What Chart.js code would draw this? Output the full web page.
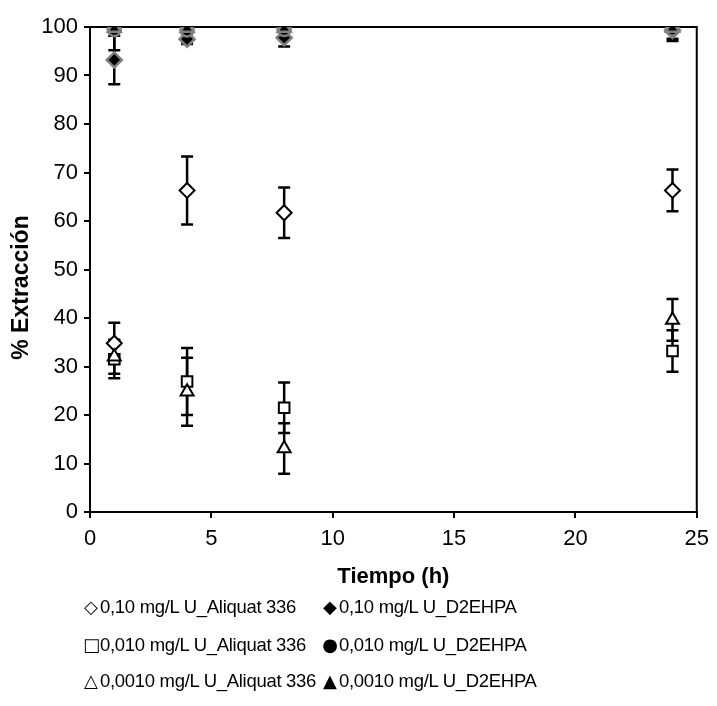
<!DOCTYPE html>
<html>
<head>
<meta charset="utf-8">
<script src="https://cdn.jsdelivr.net/npm/chart.js@4.4.0/dist/chart.umd.min.js"></script>
<style>
  html, body { margin: 0; padding: 0; background: #fff; }
  #wrap { position: relative; width: 717px; height: 706px; }
  #c { position: absolute; left: 0; top: 0; }
  .leg { position: absolute; font-family: "Liberation Sans", Arial, sans-serif; font-size: 18.5px; color: #000; white-space: nowrap; letter-spacing: -0.3px; line-height: 22px; }
  .sym { display: inline-block; width: 16px; text-align: center; font-family: "DejaVu Sans", sans-serif; font-size: 18px; letter-spacing: 0; margin-right: 1px; }
</style>
</head>
<body>
<div id="wrap">
  <canvas id="c" width="717" height="706"></canvas>
</div>
<script>
// ---- data ----
const times = [1, 4, 8, 24];
const xTicks = [0, 5, 10, 15, 20, 25];
const yTicks = [0, 10, 20, 30, 40, 50, 60, 70, 80, 90, 100];

const seriesNames = [
  "0,10 mg/L U_Aliquat 336",
  "0,10 mg/L U_D2EHPA",
  "0,010 mg/L U_Aliquat 336",
  "0,010 mg/L U_D2EHPA",
  "0,0010 mg/L U_Aliquat 336",
  "0,0010 mg/L U_D2EHPA"
];
const xTitle = "Tiempo (h)";
const yTitle = "% Extracción";

const aliq010 = [34.8, 66.3, 61.7, 66.3];
const aliq010Err = [4.2, 7.0, 5.2, 4.3];
const aliq0010 = [31.5, 26.9, 21.5, 33.2];
const aliq0010Err = [3.9, 6.9, 5.2, 4.3];
const aliq00010 = [32.0, 24.8, 13.1, 39.6];
const aliq00010Err = [3.5, 7.0, 5.2, 4.3];

const d2e010 = [93.2, 97.5, 97.8, 99.3];
const d2e010Err = [5.0, 1.0, 1.8, 2.2];
const d2e0010 = [99.5, 99.4, 99.5, 99.6];
const d2e0010Err = [4.3, 0.6, 0.5, 2.0];
const d2e00010 = [99.8, 99.8, 99.8, 99.8];
const d2e00010Err = [0.3, 0.3, 0.3, 0.3];

// ---- build datasets ----
function pts(vals) { return times.map((t, i) => ({ x: t, y: vals[i] })); }

const FONT = '"Liberation Sans", Arial, sans-serif';

const datasets = [
  { label: seriesNames[5], data: pts(d2e00010), err: d2e00010Err, pointStyle: 'triangle', pointRadius: 7.5, backgroundColor: '#000', borderColor: '#808080', borderWidth: 2.5, order: 0 },
  { label: seriesNames[3], data: pts(d2e0010), err: d2e0010Err, pointStyle: 'circle', pointRadius: 6.5, backgroundColor: '#000', borderColor: '#808080', borderWidth: 2.5, order: 1 },
  { label: seriesNames[1], data: pts(d2e010), err: d2e010Err, pointStyle: 'rectRot', pointRadius: 7.5, backgroundColor: '#000', borderColor: '#808080', borderWidth: 2.5, order: 2 },
  { label: seriesNames[4], data: pts(aliq00010), err: aliq00010Err, pointStyle: 'triangle', pointRadius: 7.5, backgroundColor: '#fff', borderColor: '#000', borderWidth: 2, order: 3 },
  { label: seriesNames[2], data: pts(aliq0010), err: aliq0010Err, pointStyle: 'rect', pointRadius: 7.5, backgroundColor: '#fff', borderColor: '#000', borderWidth: 2, order: 4 },
  { label: seriesNames[0], data: pts(aliq010), err: aliq010Err, pointStyle: 'rectRot', pointRadius: 7.5, backgroundColor: '#fff', borderColor: '#000', borderWidth: 2, order: 5 }
];

const boxAndErrors = {
  id: 'boxAndErrors',
  beforeDatasetsDraw(chart) {
    const { ctx, chartArea: a, scales } = chart;
    ctx.save();
    ctx.strokeStyle = '#000';
    ctx.lineWidth = 2;
    ctx.strokeRect(a.left, a.top, a.right - a.left, a.bottom - a.top);
    // error bars (clipped to plot area, like the source)
    ctx.beginPath();
    ctx.rect(a.left, a.top - 1, a.right - a.left, a.bottom - a.top + 2);
    ctx.clip();
    ctx.lineWidth = 2.5;
    const cap = 6;
    chart.data.datasets.forEach(ds => {
      ds.data.forEach((p, i) => {
        const e = ds.err[i];
        const x = scales.x.getPixelForValue(p.x);
        const y1 = scales.y.getPixelForValue(p.y + e);
        const y2 = scales.y.getPixelForValue(p.y - e);
        ctx.beginPath();
        ctx.moveTo(x, y1); ctx.lineTo(x, y2);
        ctx.moveTo(x - cap, y1); ctx.lineTo(x + cap, y1);
        ctx.moveTo(x - cap, y2); ctx.lineTo(x + cap, y2);
        ctx.stroke();
      });
    });
    ctx.restore();
  },
  afterDraw(chart) {
    const { ctx, chartArea: a } = chart;
    ctx.save();
    ctx.fillStyle = '#000';
    ctx.font = 'bold 23px ' + FONT;
    ctx.textAlign = 'center';
    ctx.textBaseline = 'middle';
    ctx.translate(22, (a.top + a.bottom) / 2 + 18);
    ctx.rotate(-Math.PI / 2);
    ctx.fillText(yTitle, 0, 0);
    ctx.restore();
  }
};

new Chart(document.getElementById('c'), {
  type: 'scatter',
  data: { datasets },
  options: {
    responsive: false,
    animation: false,
    layout: { padding: { left: 0, right: 17, top: 27, bottom: 114 } },
    plugins: { legend: { display: false }, tooltip: { enabled: false } },
    scales: {
      x: {
        type: 'linear', min: 0, max: 25,
        afterBuildTicks: s => { s.ticks = xTicks.map(v => ({ value: v })); },
        afterFit: s => { s.height = 80; },
        ticks: { color: '#000', font: { family: FONT, size: 22 }, padding: 8, maxRotation: 0 },
        grid: { drawOnChartArea: false, drawTicks: true, tickLength: 6, color: '#000', lineWidth: 2 },
        border: { color: '#000', width: 2 },
        title: { display: true, text: xTitle, color: '#000', font: { family: FONT, size: 22, weight: 'bold' }, padding: { top: 0, bottom: 2 } }
      },
      y: {
        type: 'linear', min: 0, max: 100,
        afterBuildTicks: s => { s.ticks = yTicks.map(v => ({ value: v })); },
        afterFit: s => { s.width = 90; },
        ticks: { color: '#000', font: { family: FONT, size: 22 }, padding: 6 },
        grid: { drawOnChartArea: false, drawTicks: true, tickLength: 6, color: '#000', lineWidth: 2 },
        border: { color: '#000', width: 2 },
        title: { display: false }
      }
    }
  },
  plugins: [boxAndErrors]
});

// ---- legend (HTML text) ----
const legendSyms = ['◇', '◆', '□', '●', '△', '▲'];
const wrap = document.getElementById('wrap');
const colX = [83, 322];
const rowY = [596, 634, 670];
seriesNames.forEach((name, i) => {
  const d = document.createElement('div');
  d.className = 'leg';
  d.style.left = colX[i % 2] + 'px';
  d.style.top = rowY[Math.floor(i / 2)] + 'px';
  const s = document.createElement('span');
  s.className = 'sym';
  s.textContent = legendSyms[i];
  d.appendChild(s);
  d.appendChild(document.createTextNode(name));
  wrap.appendChild(d);
});
</script>
</body>
</html>
